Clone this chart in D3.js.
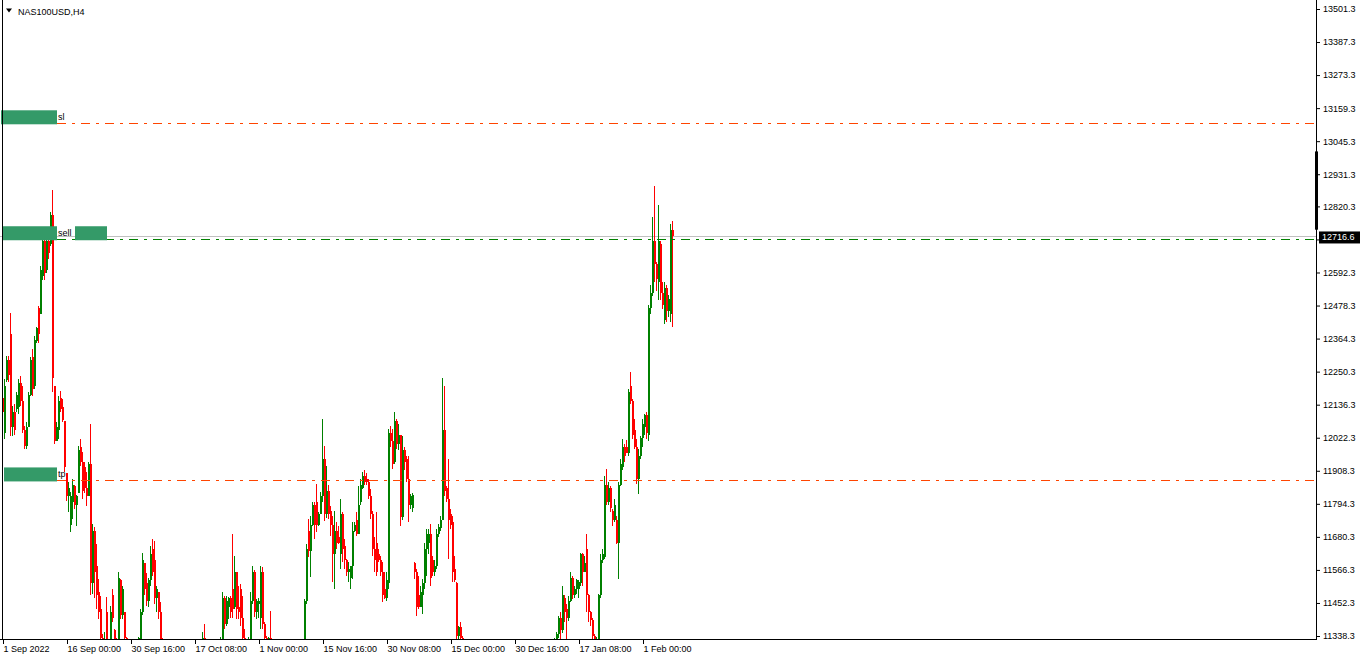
<!DOCTYPE html>
<html><head><meta charset="utf-8">
<script src="https://cdn.jsdelivr.net/npm/d3@7"></script>
<style>
html,body{margin:0;padding:0;background:#fff;overflow:hidden}
svg{display:block}
text{font-family:"Liberation Sans",Arial,sans-serif;font-size:9px}
</style>
</head><body>
<svg id="c" width="1362" height="660"></svg>
<script>
// ---- data (H4 bars, aggregated in pairs) ----
const open=[
12160,12040,12220,12290,12380,12060,12110,12120,12130,12210,
12150,12050,11995,12060,12170,12300,12200,12355,12470,12450,
12580,12700,12600,12700,12690,12790,12200,12010,12050,12160,
12130,12080,11900,11820,11720,11800,11855,11790,11830,11990,
11940,11920,11850,11820,11930,11520,11700,11580,11490,11430,
11330,11270,11420,11300,11270,11480,11360,11310,11290,11530,
11410,11420,11330,11270,11200,11120,11180,11100,11250,11320,
11420,11590,11520,11460,11530,11640,11600,11470,11490,11420,
11320,11250,11180,11200,11100,11020,11050,10950,10880,10800,
10650,10950,11050,10800,10760,10980,11100,11020,11080,11050,
11150,11330,11250,11180,11220,11120,11050,11100,11180,11260,
11320,11470,11380,11440,11470,11500,11440,11560,11440,11500,
11400,11330,11300,11260,11320,11460,11560,11420,11450,11400,
11560,11380,11330,11280,11330,11290,11200,11050,10950,10980,
10850,10780,10820,10900,10980,11050,11120,11060,11000,10900,
10850,10900,11460,11700,11630,11720,11790,11800,11720,11760,
11820,11950,11760,11840,11770,11720,11620,11700,11680,11620,
11760,11650,11600,11560,11540,11580,11700,11740,11690,11800,
11850,11890,11880,11870,11820,11760,11640,11660,11620,11600,
11560,11500,11470,11520,12040,12010,11940,12080,12000,12030,
11750,11980,11950,11880,11790,11780,11590,11560,11480,11440,
11480,11520,11640,11660,11690,11600,11560,11580,11690,11710,
11740,12050,11850,11810,11760,11730,11570,11520,11340,11370,
11330,11250,11200,11130,11150,11040,11060,11090,10980,10930,
10970,11050,11030,10940,10880,10930,10970,10990,10950,10830,
10850,10880,10920,10870,10780,10810,10880,10860,10790,10830,
10960,10940,10780,10840,10820,10760,10650,10690,10750,10960,
11020,11060,11120,11210,11180,11230,11270,11310,11345,11400,
11360,11470,11430,11400,11460,11540,11480,11500,11500,11520,
11620,11560,11640,11480,11420,11395,11340,11300,11320,11480,
11600,11610,11860,11800,11850,11770,11740,11740,11660,11860,
11920,11990,11990,11970,12200,12150,12050,11990,11880,11960,
12020,12060,12100,12030,12470,12520,12700,12620,12560,12690,
12520,12430,12540,12460,12450,12740];
const high=[
12179,12224,12303,12303,12454,12131,12140,12179,12224,12234,
12200,12062,12076,12179,12300,12327,12372,12406,12475,12613,
12716,12716,12720,12740,12802,12878,12200,12076,12165,12182,
12155,12080,11900,11868,11835,11880,11858,11823,11993,12017,
11972,11938,11904,11938,12069,11724,11715,11655,11535,11476,
11345,11352,11473,11320,11442,11500,11362,11330,11558,11535,
11510,11421,11335,11290,11230,11210,11200,11280,11335,11431,
11624,11590,11555,11540,11648,11672,11665,11510,11490,11455,
11330,11270,11230,11210,11130,11090,11070,10980,10910,10820,
11000,11080,11070,10850,11010,11150,11200,11120,11130,11220,
11352,11380,11270,11260,11240,11150,11130,11210,11300,11335,
11490,11475,11476,11473,11475,11690,11614,11560,11510,11517,
11476,11362,11320,11335,11490,11580,11565,11466,11470,11580,
11576,11385,11340,11335,11424,11300,11220,11080,11030,11000,
10880,10860,10950,11020,11100,11180,11150,11090,11020,10930,
10940,11466,11655,11741,11752,11800,11800,11862,11766,11835,
12086,11993,11924,11860,11786,11752,11770,11731,11717,11810,
11765,11672,11604,11593,11580,11731,11731,11765,11855,11879,
11903,11910,11900,11879,11844,11770,11680,11765,11640,11614,
11593,11559,11559,12051,12062,12051,12110,12086,12070,12030,
12027,11990,11958,11958,11827,11830,11595,11569,11545,11510,
11535,11660,11707,11707,11724,11614,11600,11707,11724,11752,
12230,12200,11855,11948,11776,11752,11614,11525,11372,11386,
11340,11300,11230,11180,11170,11090,11120,11110,11020,10990,
11080,11110,11060,10990,10960,11000,11010,11030,10970,10880,
10900,10940,10950,10900,10830,10900,10930,10880,10850,10990,
11030,10960,10880,10900,10850,10790,10720,10780,10990,11050,
11090,11150,11240,11260,11250,11300,11330,11352,11407,11420,
11510,11480,11448,11476,11560,11545,11510,11535,11530,11625,
11625,11614,11690,11483,11425,11400,11345,11335,11483,11620,
11640,11890,11913,11868,11855,11775,11810,11752,11868,11948,
12017,12000,12015,12190,12250,12155,12086,12017,11982,12027,
12086,12105,12110,12480,12550,12785,12892,12630,12826,12700,
12558,12558,12550,12516,12760,12770];
const low=[
12096,12017,12213,12213,12027,12027,12030,12110,12103,12131,
12040,11983,11983,12060,12165,12165,12190,12350,12350,12450,
12568,12568,12590,12640,12682,12180,12000,12010,12017,12110,
12076,11903,11803,11765,11697,11741,11776,11717,11830,11925,
11810,11830,11786,11820,11480,11483,11470,11431,11397,11300,
11250,11240,11290,11220,11250,11386,11300,11260,11285,11397,
11397,11300,11240,11170,11090,11080,11050,11080,11230,11300,
11410,11480,11442,11440,11510,11545,11448,11420,11397,11300,
11220,11150,11140,11060,10990,10980,10920,10850,10760,10600,
10440,10900,10770,10700,10740,10950,11000,10990,11010,11030,
11130,11230,11150,11140,11090,11020,11000,11080,11150,11230,
11300,11362,11372,11397,11400,11400,11430,11397,11397,11372,
11310,11280,11230,11240,11300,11450,11404,11397,11400,11362,
11362,11300,11250,11260,11270,11170,11020,10900,10920,10820,
10740,10730,10800,10870,10950,11030,11030,10950,10860,10800,
10820,10880,11450,11610,11542,11717,11672,11697,11717,11760,
11800,11734,11745,11741,11683,11525,11500,11638,11655,11569,
11594,11569,11545,11524,11500,11535,11697,11683,11690,11790,
11845,11860,11860,11810,11741,11614,11559,11545,11593,11545,
11455,11466,11460,11500,11990,11914,11930,11983,11980,11717,
11740,11910,11868,11731,11775,11765,11535,11407,11431,11440,
11414,11500,11545,11620,11510,11545,11545,11569,11680,11700,
11740,11820,11800,11604,11707,11525,11525,11300,11310,11300,
11220,11180,11100,11080,11020,10990,11030,10960,10900,10880,
10950,11010,10920,10860,10840,10900,10930,10920,10800,10780,
10820,10850,10860,10760,10720,10790,10840,10760,10740,10810,
10920,10740,10720,10800,10720,10620,10600,10660,10730,10930,
10990,11030,11100,11150,11160,11200,11250,11290,11330,11320,
11350,11386,11320,11390,11455,11466,11470,11483,11470,11510,
11510,11559,11420,11386,11372,11320,11270,11280,11300,11470,
11590,11603,11790,11790,11766,11717,11730,11655,11535,11855,
11910,11940,11970,11960,12140,12017,11982,11862,11827,11950,
11990,12030,12017,12010,12450,12510,12560,12530,12499,12499,
12465,12413,12420,12440,12420,12406];
const close=[
12110,12200,12290,12240,12060,12110,12050,12170,12210,12150,
12050,11995,12060,12170,12290,12190,12360,12400,12380,12600,
12700,12590,12700,12660,12790,12230,12010,12060,12150,12120,
12085,11920,11820,11850,11820,11860,11790,11820,11980,11940,
11840,11850,11820,11930,11520,11700,11560,11480,11420,11330,
11280,11310,11300,11260,11420,11400,11310,11290,11540,11410,
11500,11330,11270,11200,11120,11180,11100,11250,11330,11420,
11600,11500,11460,11530,11620,11560,11470,11500,11420,11320,
11250,11180,11200,11100,11020,11050,10950,10880,10800,10650,
10950,11050,10800,10760,10980,11100,11020,11080,11050,11150,
11330,11250,11180,11220,11120,11050,11100,11180,11260,11320,
11470,11380,11460,11470,11420,11430,11560,11430,11420,11400,
11330,11300,11260,11320,11460,11560,11420,11460,11460,11560,
11380,11330,11280,11330,11290,11200,11050,10950,10980,10850,
10780,10820,10900,10980,11050,11120,11060,11000,10900,10850,
10900,11460,11640,11630,11720,11790,11720,11720,11760,11820,
11950,11760,11840,11760,11720,11620,11700,11660,11660,11760,
11640,11600,11560,11570,11580,11700,11720,11690,11790,11860,
11890,11870,11870,11820,11760,11640,11600,11560,11600,11560,
11480,11470,11530,12040,12010,11930,12080,12000,12030,11750,
11980,11940,11880,11790,11820,11825,11560,11440,11440,11490,
11520,11640,11690,11690,11540,11560,11580,11690,11715,11740,
12050,11840,11810,11740,11720,11560,11530,11340,11370,11330,
11250,11200,11130,11150,11040,11060,11090,10980,10930,10970,
11050,11030,10940,10880,10930,10970,10990,10950,10830,10850,
10880,10920,10870,10780,10810,10880,10860,10790,10830,10960,
10940,10780,10840,10820,10760,10650,10690,10750,10960,11020,
11060,11120,11210,11180,11230,11270,11310,11345,11400,11360,
11480,11420,11400,11460,11540,11480,11500,11530,11525,11620,
11560,11590,11480,11420,11395,11340,11300,11320,11480,11600,
11620,11860,11800,11850,11780,11740,11790,11660,11860,11930,
11990,11960,11970,12180,12150,12030,11990,11880,11960,12020,
12070,12100,12040,12470,12520,12700,12620,12570,12700,12520,
12480,12540,12460,12500,12740,12716.6];

const priceTicks=[13501.3,13387.3,13273.3,13159.3,13045.3,12931.3,12820.3,12706.3,12592.3,12478.3,
  12364.3,12250.3,12136.3,12022.3,11908.3,11794.3,11680.3,11566.3,11452.3,11338.3];
const timeLabels=["1 Sep 2022","16 Sep 00:00","30 Sep 16:00","17 Oct 08:00","1 Nov 00:00",
  "15 Nov 16:00","30 Nov 08:00","15 Dec 00:00","30 Dec 16:00","17 Jan 08:00","1 Feb 00:00"];
const labelBars=[0,32,64,96,128,160,192,224,256,288,320];
const bidPrice=12716.6;
const rangeMarker=[12740,13010];
const levels=[{name:"sl",price:13107,color:"#ff4500"},
              {name:"sell",price:12707,color:"#008000"},
              {name:"tp",price:11875,color:"#ff4500"}];
const title="NAS100USD,H4";

// ---- layout ----
const W=1362,H=660,PR=1316,PB=639;
const FONT="Liberation Sans, Arial, sans-serif";
const svg=d3.select("#c");
const y=d3.scaleLinear().domain([11338.3,13501.3]).range([636,9]);
const x=d3.scaleLinear().domain([0,open.length-1]).range([3,3+2*(open.length-1)]);

svg.append("rect").attr("width",W).attr("height",H).attr("fill","#fff");
svg.append("clipPath").attr("id","clip").append("rect").attr("x",0).attr("y",0).attr("width",PR).attr("height",PB);

const plot=svg.append("g").attr("clip-path","url(#clip)");

// bid line
plot.append("line").attr("x1",0).attr("x2",PR).attr("y1",Math.round(y(bidPrice))+0.5).attr("y2",Math.round(y(bidPrice))+0.5)
  .attr("stroke","#c0c0c0").attr("stroke-width",1);

// candles
const idx=d3.range(open.length);
const col=i=>close[i]>=open[i]?"#008000":"#ff0000";
const cg=plot.append("g").attr("shape-rendering","crispEdges");
cg.selectAll(".w").data(idx).join("rect")
  .attr("x",i=>x(i)-1).attr("width",1)
  .attr("y",i=>y(high[i])).attr("height",i=>Math.max(1,y(low[i])-y(high[i])))
  .attr("fill",col);
cg.selectAll(".b").data(idx).join("rect")
  .attr("x",i=>x(i)-1).attr("width",2)
  .attr("y",i=>y(Math.max(open[i],close[i])))
  .attr("height",i=>Math.max(1,Math.abs(y(open[i])-y(close[i]))))
  .attr("fill",col);

// level lines
levels.forEach(l=>{
  const yy=Math.round(y(l.price))+0.5;
  plot.append("line").attr("x1",57).attr("x2",PR).attr("y1",yy).attr("y2",yy)
    .attr("stroke",l.color).attr("stroke-width",1).attr("stroke-dasharray","9,6,3,6");
});

// green object labels
const boxes=[{lvl:0,x0:1,x1:57},{lvl:1,x0:2,x1:57},{lvl:1,x0:75,x1:107},{lvl:2,x0:4,x1:57}];
boxes.forEach(b=>{
  const yy=y(levels[b.lvl].price);
  svg.append("rect").attr("x",b.x0).attr("y",yy-13).attr("width",b.x1-b.x0).attr("height",14)
    .attr("fill","#349a68");
});
levels.forEach(l=>{
  svg.append("text").attr("x",58).attr("y",y(l.price)-3).text(l.name).attr("fill","#000");
});

// frame
svg.append("line").attr("x1",2.5).attr("x2",2.5).attr("y1",0).attr("y2",PB).attr("stroke","#000");
svg.append("line").attr("x1",PR+0.5).attr("x2",PR+0.5).attr("y1",0).attr("y2",PB+1).attr("stroke","#000");
svg.append("line").attr("x1",0).attr("x2",PR+1).attr("y1",PB+0.5).attr("y2",PB+0.5).attr("stroke","#000");

// right axis
const ya=svg.append("g").attr("transform",`translate(${PR+1},0)`)
  .call(d3.axisRight(y).tickValues(priceTicks).tickSize(3).tickPadding(3).tickFormat(d3.format(".1f")));
ya.select(".domain").remove();
ya.selectAll("text").attr("font-size",9).attr("font-family",FONT).attr("fill","#000");
ya.selectAll("line").attr("stroke","#000");

// bottom axis
const xa=svg.append("g").attr("transform",`translate(0,${PB+1})`)
  .call(d3.axisBottom(x).tickValues(labelBars).tickSize(4).tickFormat((d,i)=>timeLabels[i]));
xa.select(".domain").remove();
xa.selectAll("text").attr("text-anchor","start").attr("dx",0).attr("y",6)
  .attr("font-size",9).attr("font-family",FONT).attr("fill","#000");
xa.selectAll("line").attr("stroke","#000");

// current range marker & bid label
svg.append("rect").attr("x",PR-1).attr("y",y(rangeMarker[1])).attr("width",3)
  .attr("height",y(rangeMarker[0])-y(rangeMarker[1])).attr("fill","#000");
const by=y(bidPrice);
svg.append("rect").attr("x",1319).attr("y",by-5).attr("width",41).attr("height",12).attr("fill","#000");
svg.append("text").attr("x",1322).attr("y",by+4).attr("fill","#fff").text(d3.format(".1f")(bidPrice));

// title
svg.append("path").attr("d","M6,8.5 L12,8.5 L9,12.5 Z").attr("fill","#000");
svg.append("text").attr("x",18).attr("y",15).attr("font-size",9.5).attr("fill","#000").text(title);
</script>
</body></html>
